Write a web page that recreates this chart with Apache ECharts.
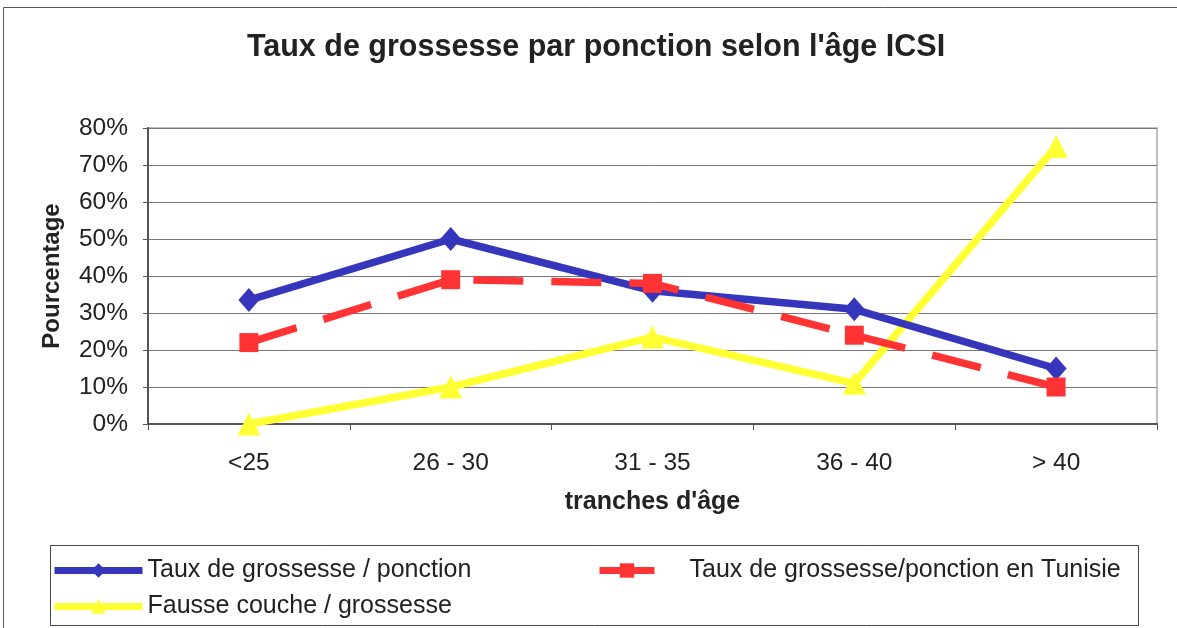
<!DOCTYPE html>
<html><head><meta charset="utf-8">
<script src="https://cdn.jsdelivr.net/npm/echarts@6/dist/echarts.min.js"></script>
<style>html,body{margin:0;padding:0;background:#fff}#c{width:1177px;height:628px}</style>
</head><body><div id="c"></div>
<script>
const categories = ['<25', '26 - 30', '31 - 35', '36 - 40', '> 40'];
const tauxPonction = [33.5, 50, 36, 31, 15];
const tauxTunisie = [22, 39, 38, 24, 10];
const fausseCouche = [0, 10, 23.5, 11, 75];
const yTicks = [0, 10, 20, 30, 40, 50, 60, 70, 80];

const names = ['Taux de grossesse / ponction', 'Taux de grossesse/ponction en Tunisie', 'Fausse couche / grossesse'];
const font = 'Liberation Sans, Arial, sans-serif';
const chart = echarts.init(document.getElementById('c'), null, {renderer: 'canvas'});
chart.setOption({
  backgroundColor: '#fff',
  animation: false,
  title: {
    text: "Taux de grossesse par ponction selon l'âge ICSI",
    left: 591, top: 27, textAlign: 'center',
    textStyle: {fontFamily: font, fontSize: 30.5, fontWeight: 'bold', color: '#222'}
  },
  graphic: [
    {type: 'rect', shape: {x: 3.5, y: 7.5, width: 1200, height: 700}, style: {fill: 'none', stroke: '#555', lineWidth: 1}, silent: true},
    {type: 'rect', shape: {x: 50.5, y: 545.5, width: 1088, height: 80}, style: {fill: 'none', stroke: '#444', lineWidth: 1}, silent: true}
  ],
  legend: [
    {
      left: 46, top: 553, orient: 'vertical', itemGap: 11,
      itemWidth: 88, itemHeight: 18,
      lineStyle: {width: 7},
      data: [names[0], names[2]],
      textStyle: {fontFamily: font, fontSize: 25, color: '#222'}
    },
    {
      left: 591, top: 553, orient: 'vertical',
      itemWidth: 55, itemHeight: 18,
      lineStyle: {width: 7},
      data: [{name: names[1], lineStyle: {type: 'solid', width: 7}}],
      textStyle: {fontFamily: font, fontSize: 25, color: '#222', padding: [0, 0, 0, 30]}
    }
  ],
  grid: {left: 148, right: 20, top: 128, bottom: 204, show: true, borderColor: '#c0c0c0', borderWidth: 2, backgroundColor: '#fff'},
  xAxis: {
    type: 'category', data: categories, boundaryGap: true,
    name: "tranches d'âge", nameLocation: 'middle', nameGap: 66,
    nameTextStyle: {fontFamily: font, fontSize: 25, fontWeight: 'bold', color: '#222'},
    axisLine: {lineStyle: {color: '#555', width: 2}},
    axisTick: {show: true, length: 6, lineStyle: {color: '#555', width: 1}},
    axisLabel: {fontFamily: font, fontSize: 24.5, color: '#222', margin: 27}
  },
  yAxis: {
    type: 'value', min: 0, max: 80, interval: 10,
    name: 'Pourcentage', nameLocation: 'middle', nameGap: 84, nameRotate: 90,
    nameTextStyle: {fontFamily: font, fontSize: 24, fontWeight: 'bold', color: '#222'},
    axisLine: {show: true, lineStyle: {color: '#555', width: 2}},
    axisTick: {show: true, length: 5, lineStyle: {color: '#555'}},
    axisLabel: {fontFamily: font, fontSize: 24.5, color: '#222', margin: 20, formatter: v => yTicks.includes(v) ? v + '%' : ''},
    splitLine: {show: true, lineStyle: {color: '#777', width: 1}}
  },
  series: [
    {
      name: names[0], type: 'line', data: tauxPonction,
      symbol: 'diamond', symbolSize: [21, 24],
      lineStyle: {color: '#3636BC', width: 7.5},
      itemStyle: {color: '#3636BC'}, z: 3
    },
    {
      name: names[1], type: 'line', data: tauxTunisie,
      symbol: 'rect', symbolSize: 19,
      lineStyle: {color: '#FF3333', width: 7.5, type: [50, 28]},
      itemStyle: {color: '#FF3333'}, z: 4
    },
    {
      name: names[2], type: 'line', data: fausseCouche,
      symbol: 'triangle', symbolSize: 23,
      lineStyle: {color: '#FFFF33', width: 7.5},
      itemStyle: {color: '#FFFF33'}, z: 2
    }
  ]
});
</script></body></html>
